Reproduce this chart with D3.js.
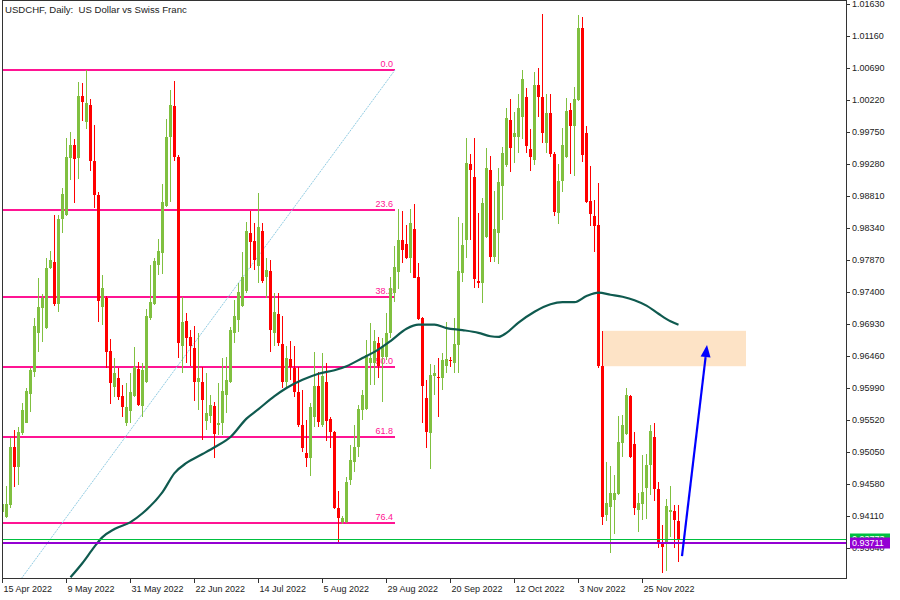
<!DOCTYPE html>
<html><head><meta charset="utf-8">
<script src="https://cdn.jsdelivr.net/npm/d3@7"></script>
<style>
body{margin:0;background:#fff}
svg{display:block}
text{font-family:"Liberation Sans",Arial,sans-serif}
</style>
</head><body>
<svg id="c" width="900" height="600"></svg>
<script>
// ---- data (daily candles, bar index 0 = 15 Apr 2022) ----
const open=[.9417,.9410,.9427,.9512,.9483,.9533,.9548,.9590,.9623,.9680,.9717,.9687,.9775,.9784,.9722,.9847,.9853,.9937,.9956,.9937,
1.0028,.9990,1.0015,.9932,.9883,.9718,.9731,.9653,.9601,.9614,.9587,.9548,.9565,.9587,.9627,.9573,.9608,.9702,.9722,.9780,
.9797,.9866,.9968,1.0013,.9938,.9661,.9697,.9674,.9658,.9608,.9608,.9551,.9558,.9573,.9545,.9548,.9589,.9608,.9680,.9699,
.9720,.9741,.9827,.9815,.9778,.9830,.9762,.9771,.9680,.9708,.9664,.9608,.9642,.9628,.9593,.9545,.9504,.9496,.9556,.9602,
.9545,.9608,.9554,.9534,.9423,.9402,.9402,.9464,.9490,.9512,.9567,.9568,.9636,.9636,.9665,.9645,.9645,.9680,.9739,.9769,
.9816,.9811,.9790,.9833,.9762,.9702,.9584,.9533,.9617,.9615,.9614,.9631,.9640,.9636,.9662,.9768,.9816,.9928,.9909,.9756,
.9753,.9821,.9919,.9791,.9827,.9896,.9927,.9993,.9968,.9968,.9997,1.0026,.9950,.9934,1.0044,1.0026,.9959,1.0003,.9943,.9856,
.9903,.9938,1.0007,.9984,1.0022,1.0128,.9974,.9874,.9852,.9839,.9631,.9413,.9424,.9435,.9443,.9518,.9531,.9587,.9517,.9420,
.9429,.9452,.9486,.9527,.9451,.9370,.9371,.9417,.9418,.9404];
const high=[.9430,.9455,.9526,.9537,.9542,.9577,.9599,.9628,.9702,.9761,.9737,.9790,.9800,.9853,.9853,.9893,.9966,.9975,.9965,1.0049,
1.0047,1.0066,1.0023,.9985,.9887,.9765,.9734,.9671,.9643,.9628,.9604,.9606,.9621,.9659,.9637,.9636,.9715,.9780,.9790,.9818,
.9899,.9994,1.0037,1.0050,.9941,.9733,.9709,.9684,.9690,.9680,.9630,.9621,.9589,.9579,.9606,.9643,.9645,.9689,.9728,.9753,
.9799,.9843,.9859,.9841,.9885,.9841,.9790,.9787,.9739,.9739,.9705,.9661,.9668,.9661,.9630,.9596,.9552,.9577,.9652,.9623,
.9650,.9636,.9556,.9536,.9448,.9411,.9468,.9515,.9545,.9574,.9596,.9670,.9695,.9684,.9674,.9672,.9709,.9762,.9808,.9862,
.9859,.9839,.9862,.9869,.9783,.9703,.9611,.9634,.9633,.9643,.9650,.9696,.9645,.9702,.9850,.9841,.9966,.9943,.9966,.9856,
.9878,.9952,.9940,.9888,.9922,.9953,1.0010,1.0023,1.0004,1.0031,1.0066,1.0040,.9979,1.0063,1.0069,1.0148,1.0031,1.0031,.9946,.9928,
.9981,1.0025,1.0018,1.0041,1.0147,1.0144,.9984,.9925,.9875,.9900,.9683,.9490,.9485,.9471,.9558,.9559,.9599,.9589,.9534,.9445,
.9501,.9502,.9545,.9548,.9461,.9398,.9436,.9455,.9427,.9427];
const low=[.9414,.9408,.9423,.9454,.9457,.9530,.9547,.9564,.9615,.9652,.9667,.9686,.9774,.9720,.9711,.9827,.9852,.9905,.9871,.9906,
.9991,.9979,.9918,.9863,.9696,.9692,.9628,.9576,.9586,.9581,.9556,.9543,.9548,.9586,.9573,.9556,.9607,.9699,.9721,.9765,
.9766,.9865,.9872,.9932,.9643,.9621,.9636,.9631,.9580,.9567,.9523,.9537,.9548,.9496,.9530,.9530,.9562,.9606,.9665,.9681,
.9718,.9739,.9775,.9772,.9753,.9753,.9731,.9652,.9661,.9661,.9599,.9599,.9611,.9586,.9542,.9505,.9483,.9470,.9542,.9542,
.9542,.9521,.9511,.9421,.9371,.9399,.9401,.9457,.9476,.9498,.9552,.9567,.9604,.9604,.9614,.9579,.9640,.9672,.9725,.9744,
.9783,.9789,.9768,.9760,.9699,.9548,.9511,.9480,.9589,.9556,.9596,.9621,.9630,.9621,.9621,.9755,.9790,.9816,.9746,.9746,
.9724,.9819,.9784,.9784,.9781,.9846,.9924,.9916,.9930,.9944,.9965,.9944,.9918,.9927,.9997,.9959,.9944,.9938,.9852,.9840,
.9887,.9937,.9913,.9910,1.0021,.9931,.9871,.9837,.9799,.9628,.9398,.9404,.9357,.9385,.9442,.9498,.9530,.9496,.9413,.9388,
.9405,.9407,.9442,.9433,.9364,.9327,.9330,.9380,.9364,.9344];
const close=[.9429,.9429,.9512,.9483,.9534,.9567,.9595,.9625,.9690,.9718,.9731,.9775,.9787,.9722,.9847,.9884,.9938,.9956,.9935,1.0028,
1.0019,1.0018,.9932,.9883,.9727,.9746,.9652,.9606,.9621,.9586,.9571,.9571,.9593,.9630,.9574,.9625,.9705,.9725,.9786,.9800,
.9872,.9968,1.0015,.9938,.9665,.9696,.9672,.9661,.9608,.9614,.9581,.9562,.9574,.9531,.9548,.9595,.9611,.9684,.9705,.9740,
.9762,.9830,.9814,.9787,.9836,.9756,.9772,.9684,.9711,.9665,.9608,.9643,.9630,.9593,.9545,.9511,.9496,.9571,.9602,.9549,
.9617,.9551,.9534,.9423,.9408,.9408,.9461,.9493,.9512,.9568,.9589,.9648,.9643,.9668,.9631,.9659,.9680,.9746,.9777,.9816,
.9802,.9790,.9841,.9761,.9700,.9602,.9534,.9618,.9621,.9614,.9640,.9642,.9639,.9664,.9771,.9809,.9930,.9919,.9759,.9753,
.9871,.9922,.9791,.9833,.9902,.9944,.9996,.9952,.9974,1.0010,1.0053,.9955,.9938,1.0044,1.0026,.9974,1.0003,.9943,.9857,.9903,
.9956,1.0006,.9984,1.0023,1.0128,.9941,.9872,.9855,.9837,.9631,.9410,.9430,.9445,.9445,.9520,.9545,.9589,.9498,.9423,.9430,
.9446,.9486,.9536,.9451,.9370,.9366,.9426,.9420,.9405,.9377];

// moving average (bar index, value)
const maIndex=[17,20,23,25,28,32,35,40,43,46,50,53,57,61,64,68,71,75,79,83,86,90,93,97,101,104,108,111,115,119,122,124,126,129,133,137,140,143,146,149,152,155,158,161,164,167,169];
const maValue=[.9321,.9342,.9366,.9380,.9392,.9402,.9415,.9446,.9474,.9489,.9502,.9512,.9527,.9554,.9568,.9587,.9599,.9611,.9620,.9625,.9631,.9643,.9652,.9668,.9686,.9692,.9692,.9687,.9684,.9680,.9675,.9674,.9680,.9695,.9711,.9722,.9725,.9725,.9734,.9739,.9736,.9733,.9728,.9720,.9708,.9697,.9692];

// x axis labels
const xTickIndex=[0,16,32,48,64,80,96,112,128,144,160];
const xTickLabels=["15 Apr 2022","9 May 2022","31 May 2022","22 Jun 2022","14 Jul 2022","5 Aug 2022","29 Aug 2022","20 Sep 2022","12 Oct 2022","3 Nov 2022","25 Nov 2022"];
// y axis ticks
const yTicks=[1.0163,1.0116,1.0069,1.0022,0.9975,0.9928,0.9881,0.9834,0.9787,0.9740,0.9693,0.9646,0.9599,0.9552,0.9505,0.9458,0.9411,0.9364];

// Fibonacci retracement
const fibLabels=["0.0","23.6","38.2","50.0","61.8","76.4"];
const fibLevels=[1.00661,0.98604,0.97332,0.96303,0.95275,0.94002];
const fibAnchorIndex=[-10.75,98.25];
const fibAnchorPrice=[0.91945,1.00661];

// zone, price lines, arrow
const zoneIndex=[150,186];
const zonePrice=[0.9683,0.9631];
const bidLine=0.93773;
const userLine=0.93711;
const arrowIndex=[170,176.25];
const arrowPrice=[0.9352,0.9662];

const title="USDCHF, Daily:  US Dollar vs Swiss Franc";

// ---- drawing ----
const svg=d3.select("#c");
const L=2,R=846,T=1,B=578;
const x=d3.scaleLinear().domain([0,211]).range([2,846]);
const y=d3.scaleLinear().domain([0.9364,1.0163]).range([548,4]);

svg.append("rect").attr("width",900).attr("height",600).attr("fill","#fff");
svg.append("defs").append("clipPath").attr("id","pc").append("rect")
  .attr("x",L).attr("y",T).attr("width",R-L).attr("height",B-T);
const plot=svg.append("g").attr("clip-path","url(#pc)");

// fib lines
const fibTo=x(fibAnchorIndex[1]);
plot.selectAll("line.fib").data(fibLevels).join("line")
  .attr("x1",x(fibAnchorIndex[0])).attr("x2",fibTo)
  .attr("y1",d=>Math.round(y(d))).attr("y2",d=>Math.round(y(d)))
  .attr("stroke","#ff1493").attr("stroke-width",2);
plot.selectAll("text.fib").data(fibLevels).join("text")
  .attr("x",fibTo-2).attr("y",d=>Math.round(y(d))-3)
  .attr("text-anchor","end").attr("font-size","9px").attr("fill","#ff1493")
  .text((d,i)=>fibLabels[i]);
plot.append("line")
  .attr("x1",x(fibAnchorIndex[0])).attr("y1",y(fibAnchorPrice[0]))
  .attr("x2",x(fibAnchorIndex[1])).attr("y2",y(fibAnchorPrice[1]))
  .attr("stroke","#8fcbe2").attr("stroke-width",1).attr("stroke-dasharray","2,1");

// zone
plot.append("rect")
  .attr("x",x(zoneIndex[0])+1).attr("width",x(zoneIndex[1])-x(zoneIndex[0])-1)
  .attr("y",y(zonePrice[0])).attr("height",y(zonePrice[1])-y(zonePrice[0]))
  .attr("fill","#fde3c6");

// candles
const idx=d3.range(open.length);
const up="#80c040", dn="#ff0000";
const cg=plot.append("g").attr("shape-rendering","crispEdges");
cg.selectAll("rect.w").data(idx).join("rect")
  .attr("x",i=>x(i)).attr("width",1)
  .attr("y",i=>y(high[i])).attr("height",i=>Math.max(1,y(low[i])-y(high[i])))
  .attr("fill",i=>close[i]>=open[i]?up:dn);
cg.selectAll("rect.b").data(idx).join("rect")
  .attr("x",i=>x(i)-1).attr("width",3)
  .attr("y",i=>y(Math.max(open[i],close[i])))
  .attr("height",i=>Math.max(1,Math.abs(y(open[i])-y(close[i]))))
  .attr("fill",i=>close[i]>=open[i]?up:dn);

// moving average
const maLine=d3.line().x(d=>x(d[0])+0.5).y(d=>y(d[1])).curve(d3.curveMonotoneX);
plot.append("path").datum(maIndex.map((d,i)=>[d,maValue[i]]))
  .attr("d",maLine).attr("fill","none").attr("stroke","#0f5a4f").attr("stroke-width",2.2);

// price lines
plot.append("line").attr("x1",L).attr("x2",R).attr("y1",Math.round(y(bidLine))+0.5).attr("y2",Math.round(y(bidLine))+0.5)
  .attr("stroke","#00c040").attr("stroke-width",1);
plot.append("line").attr("x1",L).attr("x2",R).attr("y1",Math.round(y(userLine))).attr("y2",Math.round(y(userLine)))
  .attr("stroke","#9400d3").attr("stroke-width",2);

// arrow
const ax1=x(arrowIndex[0]), ay1=y(arrowPrice[0]), ax2=x(arrowIndex[1]), ay2=y(arrowPrice[1]);
const dx=ax2-ax1, dy=ay2-ay1, len=Math.hypot(dx,dy), ux=dx/len, uy=dy/len;
const hl=12, hw=5;
const bx=ax2-ux*hl, by=ay2-uy*hl;
plot.append("line").attr("x1",ax1).attr("y1",ay1).attr("x2",bx).attr("y2",by)
  .attr("stroke","#0000ff").attr("stroke-width",2.2);
plot.append("path").attr("d",`M${ax2},${ay2}L${bx-uy*hw},${by+ux*hw}L${bx+uy*hw},${by-ux*hw}Z`).attr("fill","#0000ff");

// frame
svg.append("rect").attr("x",L+0.5).attr("y",T-0.5).attr("width",R-L).attr("height",B-T+1)
  .attr("fill","none").attr("stroke","#333").attr("stroke-width",1);

// axes
const xa=svg.append("g").attr("transform",`translate(0,${B})`)
  .call(d3.axisBottom(x).tickValues(xTickIndex).tickFormat((d,i)=>xTickLabels[i]).tickSize(5).tickSizeOuter(0));
xa.select(".domain").remove();
xa.selectAll("line").attr("stroke","#333");
xa.selectAll("text").attr("text-anchor","start").attr("x",1).attr("y",8).attr("font-size","9px").attr("fill","#222");

const ya=svg.append("g").attr("transform",`translate(${R},0)`)
  .call(d3.axisRight(y).tickValues(yTicks).tickFormat(d3.format(".5f")).tickSize(4).tickPadding(2).tickSizeOuter(0));
ya.select(".domain").remove();
ya.selectAll("line").attr("stroke","#333");
ya.selectAll("text").attr("font-size","9px").attr("fill","#222");

// price labels
[[bidLine,"#00c040"],[userLine,"#9400d3"]].forEach(([v,c])=>{
  const yy=Math.round(y(v));
  svg.append("rect").attr("x",850).attr("y",yy-5.5).attr("width",40).attr("height",11).attr("fill",c);
  svg.append("text").attr("x",852).attr("y",yy).attr("dy","0.35em").attr("font-size","9px").attr("fill","#fff").text(d3.format(".5f")(v));
});

// title
svg.append("text").attr("x",5).attr("y",13).attr("font-size","9.6px").attr("fill","#222")
  .style("white-space","pre").text(title);
</script>
</body></html>
